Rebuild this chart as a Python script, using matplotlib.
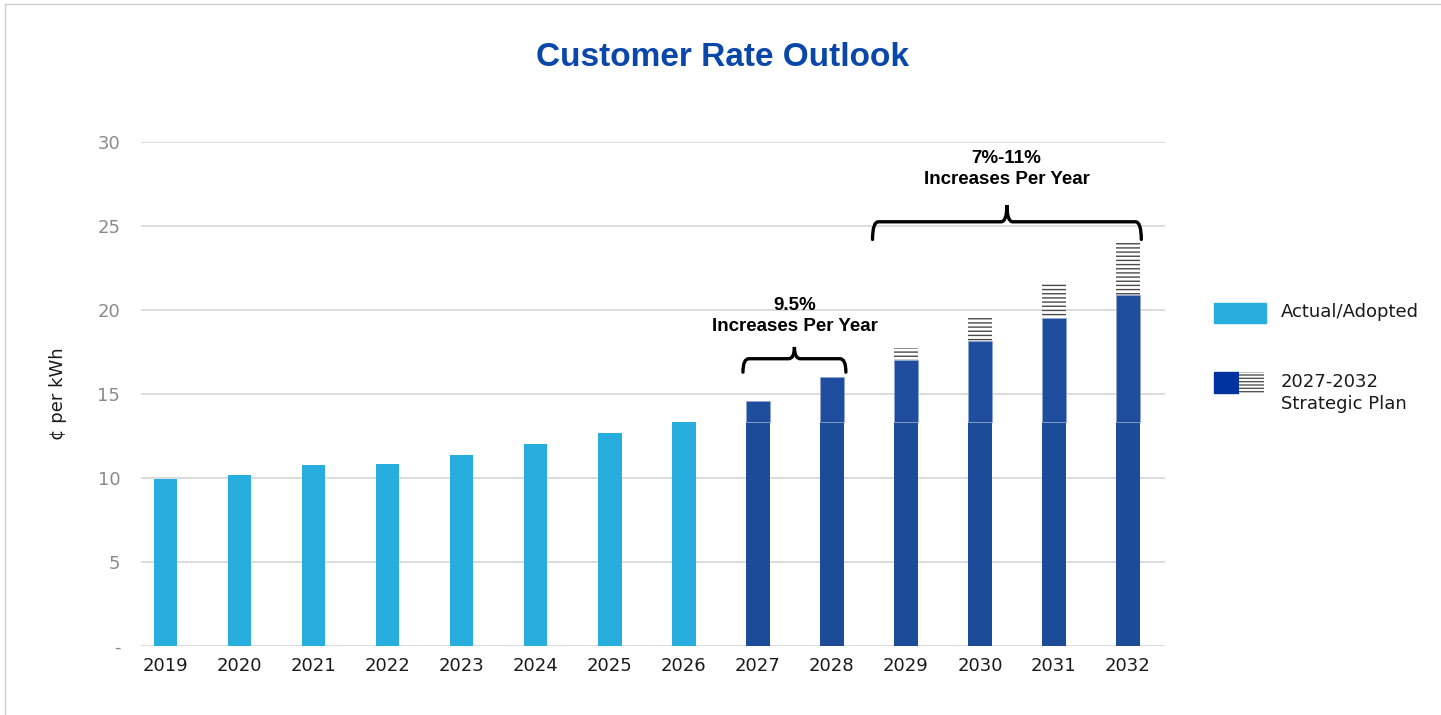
import matplotlib.pyplot as plt
from matplotlib.patches import Rectangle, PathPatch
from matplotlib.path import Path
from matplotlib.lines import Line2D

# data
years = ['2019', '2020', '2021', '2022', '2023', '2024', '2025', '2026',
         '2027', '2028', '2029', '2030', '2031', '2032']
actual = [9.95, 10.2, 10.75, 10.85, 11.35, 12.0, 12.65, 13.35]
plan_low = [14.6, 16.0, 17.0, 18.15, 19.5, 20.9]
plan_high = [14.6, 16.0, 17.75, 19.6, 21.65, 24.05]
base_2026 = actual[-1]

COL_LIGHT = '#27aedf'
COL_DARK = '#1f4e9e'
COL_DARK_BASE = '#1c4b9a'
COL_TITLE = '#0a47ab'
COL_GRID = '#d9d9d9'

plt.rcParams['hatch.linewidth'] = 1.0

fig = plt.figure(figsize=(14.41, 7.15), dpi=100)
ax = fig.add_axes([141 / 1441, 69 / 715, 1024 / 1441, 504 / 715])

x_act = list(range(len(actual)))
x_plan = list(range(len(actual), len(years)))
w = 0.32

ax.bar(x_act, actual, width=w, color=COL_LIGHT, zorder=3)
ax.bar(x_plan, [base_2026] * len(x_plan), width=w, color=COL_DARK_BASE, zorder=3)
ax.bar(x_plan, [v - base_2026 for v in plan_low], bottom=base_2026, width=w,
       color=COL_DARK, edgecolor='#8fa6cf', linewidth=0.6, zorder=3)
ax.bar(x_plan, [h - l for h, l in zip(plan_high, plan_low)], bottom=plan_low, width=w,
       color='white', edgecolor='#4a4a4a', hatch='----', linewidth=0, zorder=3)

ax.set_xlim(-0.33, 13.5)
ax.set_ylim(0, 30)
ax.set_yticks([0, 5, 10, 15, 20, 25, 30])
ax.set_yticklabels(['-', '5', '10', '15', '20', '25', '30'])
ax.set_xticks(range(len(years)))
ax.set_xticklabels(years)
ax.tick_params(axis='y', length=0, pad=15, labelsize=13, labelcolor='#8a8a8a')
ax.tick_params(axis='x', length=0, pad=8, labelsize=13, labelcolor='#1a1a1a')
ax.grid(axis='y', color=COL_GRID, linewidth=1.3, zorder=0)
for s in ax.spines.values():
    s.set_visible(False)
ax.set_ylabel('¢ per kWh', fontsize=13, labelpad=22, color='#1a1a1a')

# curly braces
def brace(x0, x1, y_end, y_bar, y_tip, r=0.08):
    xm = (x0 + x1) / 2
    verts = [(x0, y_end), (x0, y_bar), (x0 + r, y_bar),
             (xm - r, y_bar), (xm, y_bar), (xm, y_tip),
             (xm, y_bar), (xm + r, y_bar),
             (x1 - r, y_bar), (x1, y_bar), (x1, y_end)]
    codes = [Path.MOVETO, Path.CURVE3, Path.CURVE3,
             Path.LINETO, Path.CURVE3, Path.CURVE3,
             Path.CURVE3, Path.CURVE3,
             Path.LINETO, Path.CURVE3, Path.CURVE3]
    ax.add_patch(PathPatch(Path(verts, codes), facecolor='none', edgecolor='black',
                           linewidth=2.4, capstyle='round', zorder=4, clip_on=False))

brace(7.8, 9.19, 16.3, 17.1, 17.8)
brace(9.55, 13.18, 24.2, 25.25, 26.25)

ann_font = dict(fontsize=13.5, fontweight='bold', ha='center', va='center',
                family=['Liberation Sans', 'DejaVu Sans'], linespacing=1.35)
ax.text(8.5, 19.65, '9.5%\nIncreases Per Year', **ann_font)
ax.text(11.36, 28.4, '7%-11%\nIncreases Per Year', **ann_font, clip_on=False)

fig.text(722 / 1441, 1 - 58 / 715, 'Customer Rate Outlook', fontsize=24,
         fontweight='bold', color=COL_TITLE, ha='center', va='center',
         family=['Liberation Sans', 'DejaVu Sans'])

# legend
fig.patches.append(Rectangle((1214 / 1441, 1 - 323 / 715), 52 / 1441, 20 / 715,
                             transform=fig.transFigure, color=COL_LIGHT))
fig.text(1281 / 1441, 1 - 312 / 715, 'Actual/Adopted', fontsize=13,
         ha='left', va='center', color='#1a1a1a')
fig.patches.append(Rectangle((1214 / 1441, 1 - 393 / 715), 24 / 1441, 21 / 715,
                             transform=fig.transFigure, color='#0033a0'))
fig.patches.append(Rectangle((1239 / 1441, 1 - 393 / 715), 25 / 1441, 21 / 715,
                             transform=fig.transFigure, facecolor='white',
                             edgecolor='#555555', hatch='-----', linewidth=0))
fig.text(1281 / 1441, 1 - 393 / 715, '2027-2032\nStrategic Plan', fontsize=13,
         ha='left', va='center', color='#1a1a1a', linespacing=1.3)

# outer frame edges
fig.lines.append(Line2D([5 / 1441, 1], [1 - 4 / 715, 1 - 4 / 715],
                        transform=fig.transFigure, color='#cccccc', linewidth=1))
fig.lines.append(Line2D([5 / 1441, 5 / 1441], [0, 1 - 4 / 715],
                        transform=fig.transFigure, color='#cccccc', linewidth=1))

fig.savefig('out.png', dpi=100)
